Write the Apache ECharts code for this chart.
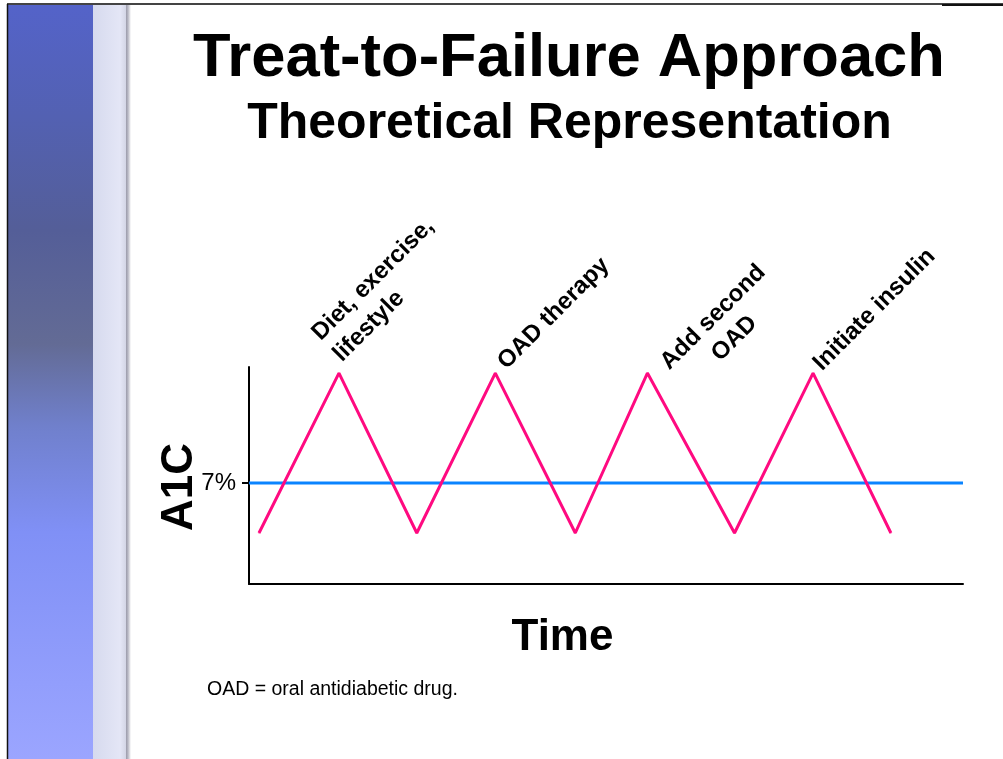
<!DOCTYPE html>
<html><head><meta charset="utf-8">
<script src="https://cdn.jsdelivr.net/npm/echarts@6/dist/echarts.min.js"></script>
<style>html,body{margin:0;padding:0;background:#fff}#c{width:1003px;height:759px}</style>
</head><body><div id="c"></div>
<script>
// ---- data ----
const timePoints = [1.4, 12.6, 23.5, 34.5, 45.7, 55.8, 68.0, 79.0, 89.9];
const a1cValues = [23.5, 97.2, 23.5, 97.2, 23.5, 97.2, 23.5, 97.2, 23.5];
const targetValue = 46.5;
const targetLabel = '7%';
const timeRange = [0, 100];
const a1cRange = [0, 100];
const annotationLabels = ['Diet, exercise,\nlifestyle', 'OAD therapy', 'Add second\nOAD', 'Initiate insulin'];
const annotationIndex = [1, 3, 5, 7];
const titleText = 'Treat-to-Failure Approach';
const subtitleText = 'Theoretical Representation';
const xAxisTitle = 'Time';
const yAxisTitle = 'A1C';
const footnote = 'OAD = oral antidiabetic drug.';

// ---- layout / style ----
const FF = '"Liberation Sans", Arial, sans-serif';
const labelLayouts = [
  {align: 'left', offset: [9.5, 3]},
  {align: 'left', offset: [10, 14]},
  {align: 'center', offset: [86, 52]},
  {align: 'left', offset: [7.5, 13.5]}
];

const pinkData = timePoints.map((t, i) => {
  const item = {value: [t, a1cValues[i]]};
  const k = annotationIndex.indexOf(i);
  if (k >= 0) {
    item.label = {
      show: true, formatter: annotationLabels[k], position: 'inside', rotate: 45,
      align: labelLayouts[k].align, verticalAlign: 'bottom', offset: labelLayouts[k].offset,
      fontSize: 24, fontWeight: 'bold', lineHeight: 30, color: '#000', fontFamily: FF
    };
  }
  return item;
});

const chart = echarts.init(document.getElementById('c'), null, {renderer: 'canvas'});
chart.setOption({
  animation: false,
  backgroundColor: '#ffffff',
  grid: {left: 249, right: 40, top: 367, bottom: 175, containLabel: false},
  xAxis: {
    type: 'value', min: timeRange[0], max: timeRange[1],
    axisLine: {onZero: false, lineStyle: {color: '#000', width: 2}},
    axisTick: {show: false}, axisLabel: {show: false}, splitLine: {show: false}
  },
  yAxis: {
    type: 'value', min: a1cRange[0], max: a1cRange[1],
    axisLine: {show: true, onZero: false, lineStyle: {color: '#000', width: 2}},
    axisTick: {show: true, customValues: [targetValue], length: 7, lineStyle: {color: '#000', width: 2}},
    axisLabel: {customValues: [targetValue], formatter: () => targetLabel, margin: 13,
      fontSize: 24, color: '#000', fontFamily: FF},
    splitLine: {show: false}
  },
  series: [
    {
      type: 'line', silent: true, symbol: 'none',
      data: [[timeRange[0], targetValue], [timeRange[1], targetValue]],
      lineStyle: {color: '#0a84ff', width: 3}
    },
    {
      type: 'line', silent: true, symbol: 'circle', symbolSize: 1, showAllSymbol: true,
      itemStyle: {color: '#ff0a80'},
      data: pinkData,
      lineStyle: {color: '#ff0a80', width: 3}
    }
  ],
  graphic: [
    // slide decoration
    {type: 'rect', shape: {x: 8, y: 4, width: 85, height: 755}, silent: true, z: -10,
      style: {fill: new echarts.graphic.LinearGradient(0, 0, 0, 1, [
        {offset: 0, color: '#5463c9'}, {offset: 0.15, color: '#5361b2'},
        {offset: 0.3, color: '#545e98'}, {offset: 0.45, color: '#636b95'},
        {offset: 0.56, color: '#7080cc'}, {offset: 0.7, color: '#8090f6'},
        {offset: 1, color: '#9ba5ff'}])}},
    {type: 'rect', shape: {x: 93, y: 4, width: 34, height: 755}, silent: true, z: -10,
      style: {fill: new echarts.graphic.LinearGradient(0, 0, 1, 0, [
        {offset: 0, color: '#d6daee'}, {offset: 0.8, color: '#e4e6f6'}, {offset: 1, color: '#d0d2e2'}])}},
    {type: 'rect', shape: {x: 126, y: 4, width: 5, height: 755}, silent: true, z: -10,
      style: {fill: new echarts.graphic.LinearGradient(0, 0, 1, 0, [
        {offset: 0, color: '#9a9aaa'}, {offset: 0.4, color: '#b8b8c4'}, {offset: 1, color: '#ffffff'}])}},
    {type: 'line', shape: {x1: 7, y1: 4, x2: 1003, y2: 4}, silent: true,
      style: {stroke: '#444', lineWidth: 2}},
    {type: 'line', shape: {x1: 942, y1: 5, x2: 1003, y2: 5}, silent: true,
      style: {stroke: '#111', lineWidth: 2}},
    {type: 'line', shape: {x1: 7.5, y1: 4, x2: 7.5, y2: 759}, silent: true,
      style: {stroke: '#111', lineWidth: 1.5}},
    // texts
    {type: 'text', silent: true, style: {text: titleText, x: 569, y: 59.5, align: 'center', verticalAlign: 'middle',
      font: 'bold 61.5px ' + FF, fill: '#000'}},
    {type: 'text', silent: true, style: {text: subtitleText, x: 569.5, y: 124.5, align: 'center', verticalAlign: 'middle',
      font: 'bold 50px ' + FF, fill: '#000'}},
    {type: 'text', silent: true, style: {text: xAxisTitle, x: 562.5, y: 638, align: 'center', verticalAlign: 'middle',
      font: 'bold 44px ' + FF, fill: '#000'}},
    {type: 'text', silent: true, x: 180, y: 487, rotation: Math.PI / 2,
      style: {text: yAxisTitle, x: 0, y: 0, align: 'center', verticalAlign: 'middle',
      font: 'bold 44px ' + FF, fill: '#000'}},
    {type: 'text', silent: true, style: {text: footnote, x: 207, y: 689.5, align: 'left', verticalAlign: 'middle',
      font: '19.5px ' + FF, fill: '#000'}}
  ]
});
</script></body></html>
